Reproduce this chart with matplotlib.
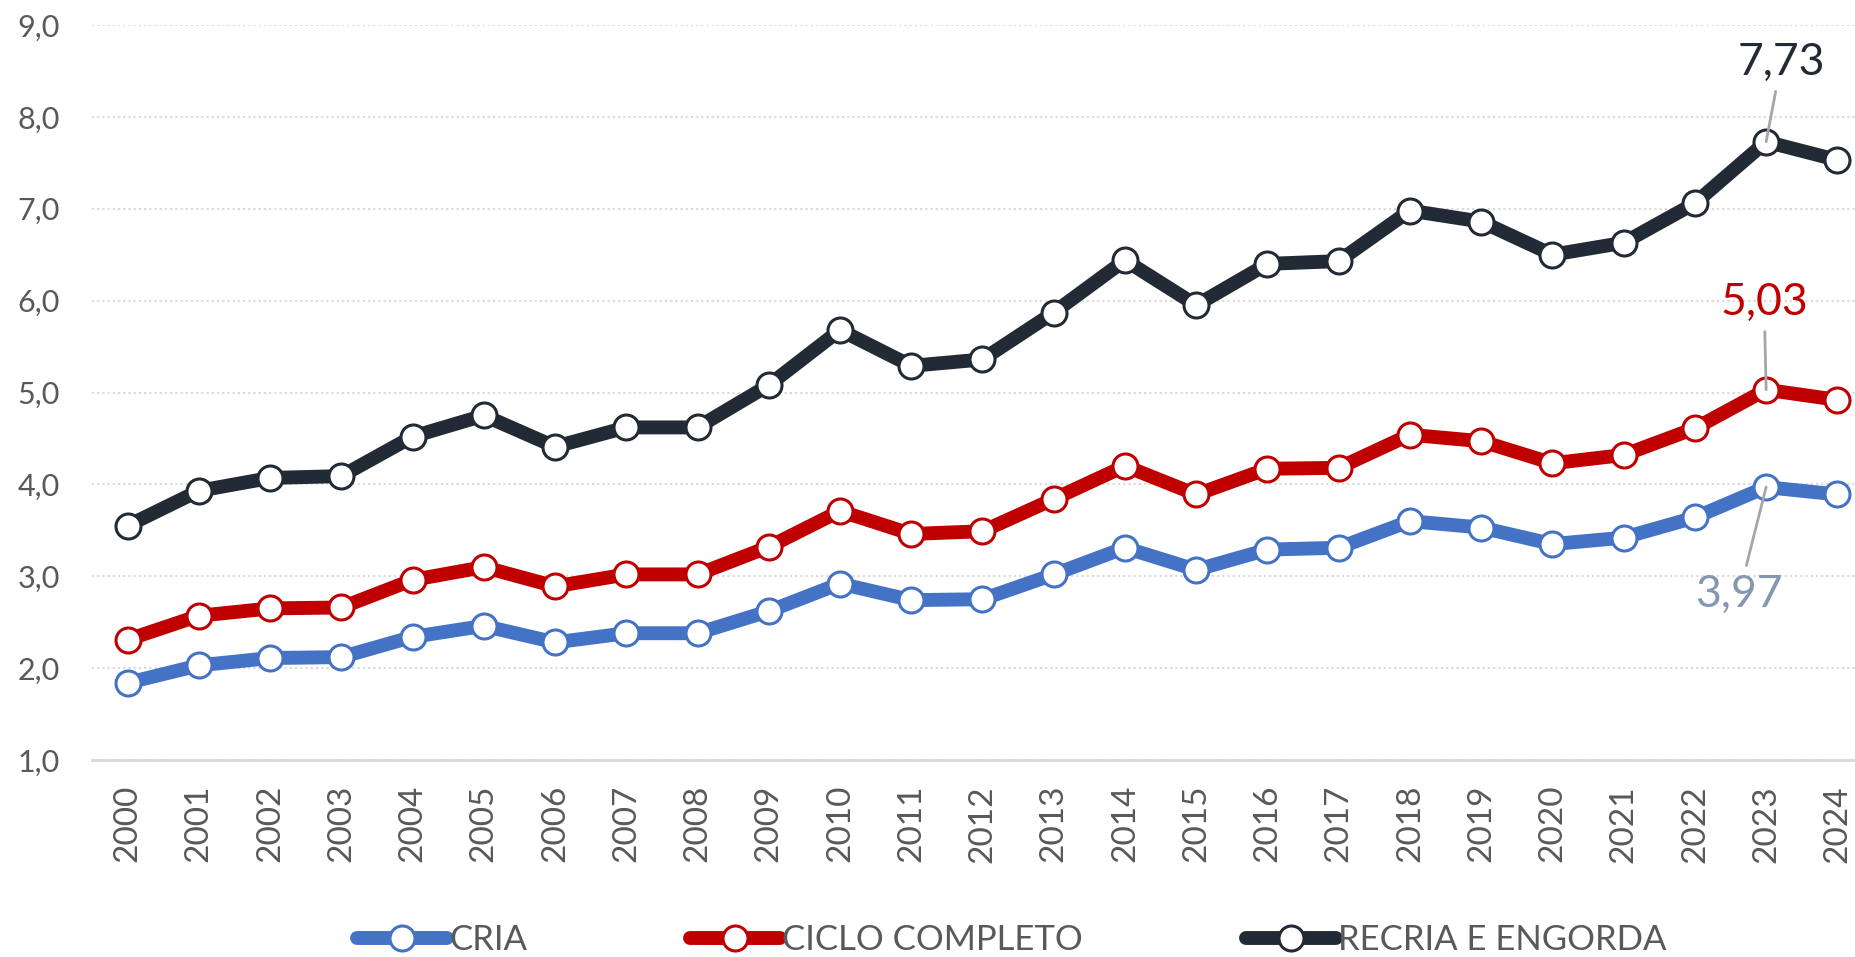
import matplotlib
matplotlib.use("Agg")
import matplotlib.pyplot as plt

plt.rcParams["font.family"] = ["Lato", "DejaVu Sans"]

# values
anos = [str(a) for a in range(2000, 2025)]
cria = [1.84, 2.03, 2.11, 2.12, 2.34, 2.46, 2.28, 2.38, 2.38, 2.62, 2.92, 2.74, 2.75,
        3.02, 3.31, 3.07, 3.29, 3.31, 3.60, 3.53, 3.35, 3.42, 3.64, 3.97, 3.89]
ciclo = [2.31, 2.57, 2.65, 2.66, 2.96, 3.10, 2.89, 3.02, 3.02, 3.32, 3.71, 3.46, 3.49,
         3.84, 4.20, 3.89, 4.17, 4.18, 4.54, 4.47, 4.23, 4.32, 4.61, 5.03, 4.92]
recria = [3.55, 3.93, 4.07, 4.09, 4.52, 4.75, 4.41, 4.62, 4.62, 5.08, 5.68, 5.29, 5.36,
          5.87, 6.44, 5.95, 6.40, 6.43, 6.98, 6.86, 6.50, 6.63, 7.06, 7.73, 7.53]
yticks = [1, 2, 3, 4, 5, 6, 7, 8, 9]

series = [
    ("CRIA", cria, "#4472C4"),
    ("CICLO COMPLETO", ciclo, "#C00000"),
    ("RECRIA E ENGORDA", recria, "#222A35"),
]

fig = plt.figure(figsize=(18.55, 9.57), dpi=100)
ax = fig.add_axes([92 / 1855, 1 - 760 / 957, (1873 - 92) / 1855, (760 - 25) / 957])

x = list(range(len(anos)))
for nome, vals, cor in series:
    ax.plot(x, vals, color=cor, lw=10, marker="o", ms=18, mfc="white",
            mec=cor, mew=2.2, label=nome, solid_capstyle="round", zorder=3)

ax.set_xlim(-0.5, len(anos) - 0.5)
ax.set_ylim(1, 9)
ax.set_yticks(yticks)
ax.set_yticklabels([f"{v:.1f}".replace(".", ",") for v in yticks])
ax.set_xticks(x)
ax.set_xticklabels(anos, rotation=90)
ax.tick_params(axis="y", length=0, pad=23, labelsize=22, labelcolor="#595959")
ax.tick_params(axis="x", length=0, pad=18, labelsize=24, labelcolor="#595959")

ax.grid(axis="y", color="#D9D9D9", lw=1.5, ls=(0, (1, 1.5)))
for s in ["top", "left", "right"]:
    ax.spines[s].set_visible(False)
ax.spines["bottom"].set_color("#D9D9D9")
ax.spines["bottom"].set_linewidth(2)

# value labels for 2023
i = anos.index("2023")
rotulos = [
    (recria[i], (15, 79), "#222A35"),
    (ciclo[i], (-2, 87), "#C00000"),
    (cria[i], (-27, -107), "#8497B0"),
]
for v, off, cor in rotulos:
    ax.annotate(f"{v:.2f}".replace(".", ","), xy=(i, v), xytext=off,
                textcoords="offset pixels", ha="center", va="center",
                fontsize=32, color=cor, zorder=5,
                arrowprops=dict(arrowstyle="-", color="#A6A6A6", lw=2,
                                shrinkA=4, shrinkB=0))

fig.legend(loc="center left", bbox_to_anchor=(357 / 1855, 1 - 940 / 957),
           ncol=3, frameon=False, fontsize=25, labelcolor="#595959",
           handlelength=2.6, handletextpad=0.05, columnspacing=4.7,
           borderpad=0, borderaxespad=0)

plt.savefig("out.png", dpi=100)
